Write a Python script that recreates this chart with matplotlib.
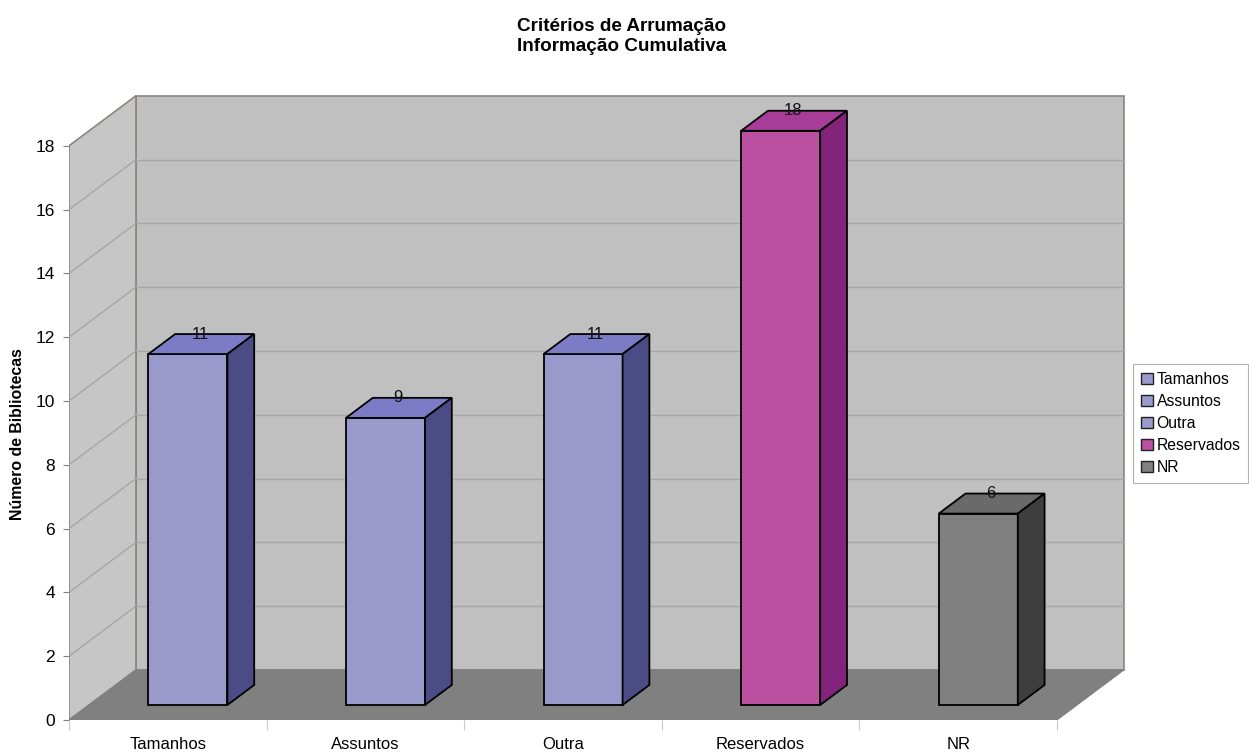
import numpy as np
import matplotlib.pyplot as plt
from matplotlib.patches import Polygon, Patch

plt.rcParams['font.family'] = ['Liberation Sans', 'DejaVu Sans']

categorias = ["Tamanhos", "Assuntos", "Outra", "Reservados", "NR"]
valores = [11, 9, 11, 18, 6]
y_ticks = np.arange(0, 19, 2)

cor_frente = ["#9999cc", "#9999cc", "#9999cc", "#bb4fa0", "#808080"]
cor_topo = ["#7c7cc6", "#7c7cc6", "#7c7cc6", "#a73d98", "#6a6a6a"]
cor_lado = ["#4b4b86", "#4b4b86", "#4b4b86", "#84237c", "#3e3e3e"]

# deslocamento da profundidade (perspectiva oblíqua), em unidades de dados
DX, DY = 0.339, 1.57
z0, z1 = 0.30, 0.70
largura = 0.4
ymax = 18

fig = plt.figure(figsize=(12.49, 7.53), dpi=100)
ax = fig.add_axes([69 / 1249, 33 / 753, 1067 / 1249, 631.6 / 753])
ax.set_xlim(0, 5.4)
ax.set_ylim(0, 19.8)
for s in ax.spines.values():
    s.set_visible(False)


def poly(pts, fc, ec="#8a8580", lw=1.2, z=1):
    ax.add_patch(Polygon(pts, closed=True, facecolor=fc, edgecolor=ec,
                         linewidth=lw, zorder=z, joinstyle="miter"))


n = len(categorias)
# paredes e chão
poly([(DX, DY), (n + DX, DY), (n + DX, ymax + DY), (DX, ymax + DY)], "#c0c0c0")
poly([(0, 0), (DX, DY), (DX, ymax + DY), (0, ymax)], "#c6c6c6")
for v in y_ticks[1:-1]:
    ax.plot([DX, n + DX], [v + DY, v + DY], color="#a6a6a6", lw=1, zorder=1.5)
    ax.plot([0, DX], [v, v + DY], color="#a6a6a6", lw=1, zorder=1.5)
poly([(0, 0), (n, 0), (n + DX, DY), (DX, DY)], "#808080", ec="#808080", lw=0.8, z=2)

# barras
w = z1 - z0
for i, v in enumerate(valores):
    x0 = i + 0.5 - largura / 2 + z0 * DX
    x1 = x0 + largura
    yb = z0 * DY
    yt = yb + v
    ax.bar(x0, v, width=largura, bottom=yb, align="edge", color=cor_frente[i],
           edgecolor="black", linewidth=1.3, zorder=3)
    poly([(x0, yt), (x1, yt), (x1 + w * DX, yt + w * DY), (x0 + w * DX, yt + w * DY)],
         cor_topo[i], ec="black", lw=1.3, z=3)
    poly([(x1, yb), (x1 + w * DX, yb + w * DY), (x1 + w * DX, yt + w * DY), (x1, yt)],
         cor_lado[i], ec="black", lw=1.3, z=3)
    ax.text(i + 0.665, yt + w * DY, str(v), ha="center", va="center",
            fontsize=12, color="#111111", zorder=4)

# eixos
ax.set_yticks(y_ticks)
ax.tick_params(axis="y", length=4, color="#808080", labelsize=12.5, pad=6)
ax.set_xticks(np.arange(0, n + 1))
ax.set_xticklabels([])
ax.set_xticks(np.arange(n) + 0.5, minor=True)
ax.set_xticklabels(categorias, minor=True)
ax.tick_params(axis="x", which="major", length=7, color="#c8c8c8")
ax.tick_params(axis="x", which="minor", length=0, labelsize=12, pad=12)
ax.set_ylabel("Número de Bibliotecas", fontsize=11.4, fontweight="bold")
ax.yaxis.set_label_coords(-0.041, 0.453)

fig.text(0.498, 1 - 36.5 / 753, "Critérios de Arrumação\nInformação Cumulativa",
         ha="center", va="center", fontsize=13.6, fontweight="bold",
         linespacing=1.2)

handles = [Patch(facecolor=c, edgecolor="#222222", linewidth=1) for c in cor_frente]
leg = ax.legend(handles, categorias, loc="upper left",
                bbox_to_anchor=(1133 / 1249, 1 - 364 / 753),
                bbox_transform=fig.transFigure, fontsize=11.3, frameon=True,
                fancybox=False, edgecolor="#a0a0a0", handlelength=0.75,
                handleheight=0.75, handletextpad=0.25, labelspacing=0.45,
                borderpad=0.5, borderaxespad=0)
leg.get_frame().set_linewidth(0.8)

fig.savefig("out.png", dpi=100)
